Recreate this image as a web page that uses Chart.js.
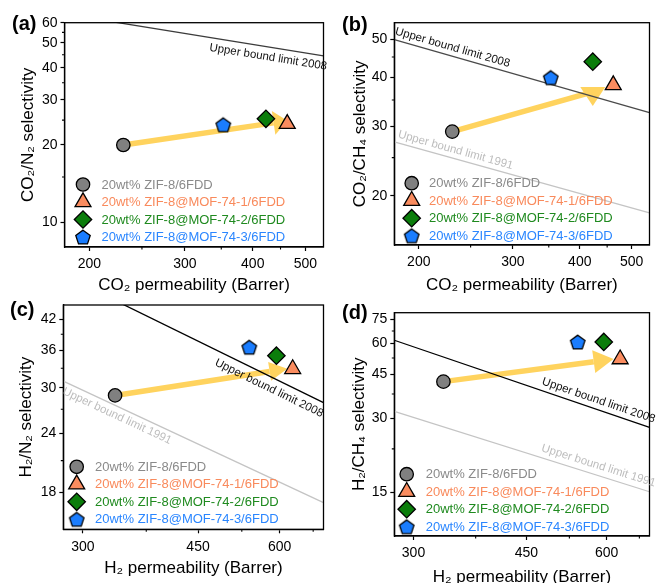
<!DOCTYPE html>
<html>
<head>
<meta charset="utf-8">
<script src="https://cdn.jsdelivr.net/npm/chart.js@4.4.1/dist/chart.umd.min.js"></script>
<style>
  html, body { margin: 0; padding: 0; background: #fff; }
  body { width: 660px; height: 583px; position: relative; overflow: hidden; }
  canvas { position: absolute; }
</style>
</head>
<body>
<canvas id="chartA" width="334" height="296" style="left:0;top:0"></canvas>
<canvas id="chartB" width="330" height="296" style="left:330px;top:0"></canvas>
<canvas id="chartC" width="334" height="291" style="left:0;top:292px"></canvas>
<canvas id="chartD" width="330" height="300" style="left:330px;top:292px"></canvas>
<script>
// ===== Data =====
const seriesNames = ['20wt% ZIF-8/6FDD', '20wt% ZIF-8@MOF-74-1/6FDD', '20wt% ZIF-8@MOF-74-2/6FDD', '20wt% ZIF-8@MOF-74-3/6FDD'];

// (a) CO2/N2, (b) CO2/CH4 vs CO2 permeability
const permA = [231, 463, 423, 353];
const selA = [20.0, 24.2, 25.3, 24.0];
const permB = [231, 462, 423, 353];
const selB = [29.1, 38.2, 43.8, 39.9];
// (c) H2/N2, (d) H2/CH4 vs H2 permeability
const permC = [336, 628, 593, 539];
const selC = [28.9, 32.9, 35.1, 36.6];
const permD = [334, 630, 594, 541];
const selD = [42.1, 51.9, 60.9, 60.9];

// upper bound lines: selectivity at both ends of the x range
const co2Range = [180, 540];
const h2Range = [280, 700];
const ub2008A = [64.9, 44.5];
const ub2008B = [49.8, 32.5];
const ub1991B = [27.4, 18.1];
const ub2008C = [52.1, 27.9];
const ub1991C = [31.0, 17.1];
const ub2008D = [61.9, 27.5];
const ub1991D = [31.9, 15.1];

// yellow arrows (start, end)
const arrowXA = [231, 437], arrowYA = [20.0, 24.4];
const arrowXB = [231, 423], arrowYB = [29.1, 36.7];
const arrowXC = [336, 579], arrowYC = [28.9, 32.5];
const arrowXD = [334, 573], arrowYD = [42.1, 50.7];

// ticks
const co2Ticks = [200, 300, 400, 500], co2Minor = [250, 350, 450];
const h2Ticks = [300, 450, 600], h2Minor = [375, 525, 675];
const yTicksA = [10, 20, 30, 40, 50, 60], yMinorA = [15, 25, 35, 45, 55], yRangeA = [8, 60];
const yTicksB = [20, 30, 40, 50], yMinorB = [25, 35, 45], yRangeB = [15, 55];
const yTicksC = [18, 24, 30, 36, 42], yMinorC = [21, 27, 33, 39], yRangeC = [15, 45];
const yTicksD = [15, 30, 45, 60, 75], yMinorD = [22.5, 37.5, 52.5, 67.5], yRangeD = [10, 80];

// ===== Styles =====
const FONT = '"Liberation Sans", Arial, sans-serif';
Chart.defaults.font.family = FONT;
Chart.defaults.color = '#000';

const markerFill = ['#808080', '#FA8C5F', '#0B7D0B', '#1A7DFF'];
const legendColor = ['#8A8A8A', '#F98A5C', '#1F8A1F', '#2A86FF'];
const arrowColor = '#FFD35E';

function pentagon(R, fill) {
  const s = Math.ceil(2 * R + 4);
  const c = document.createElement('canvas');
  c.width = s; c.height = s;
  const g = c.getContext('2d');
  const cx = s / 2, cy = s / 2 + 0.1 * R;
  g.beginPath();
  for (let i = 0; i < 5; i++) {
    const a = -Math.PI / 2 + i * 2 * Math.PI / 5;
    g.lineTo(cx + R * Math.cos(a), cy + R * Math.sin(a));
  }
  g.closePath();
  g.fillStyle = fill; g.fill();
  g.lineWidth = 1.3; g.strokeStyle = '#000'; g.stroke();
  return c;
}
const pointStyles = ['circle', 'triangle', 'rectRot', pentagon(7.6, markerFill[3])];
const pointSizes = [6.7, 9.2, 8.7, 7.6];

// ===== Decorations: arrow head, minor ticks, frame, labels, legend =====
function decor(p) {
  return {
    id: 'decor',
    afterDatasetDraw(chart, args) {
      const ds = chart.data.datasets[args.index];
      if (!ds.arrowHead) return;
      const pts = args.meta.data;
      const a = pts[0], b = pts[pts.length - 1];
      const h = ds.arrowHead;
      const ang = h.angle != null ? h.angle * Math.PI / 180 : Math.atan2(b.y - a.y, b.x - a.x);
      const ctx = chart.ctx;
      ctx.save();
      ctx.translate(b.x, b.y);
      ctx.rotate(ang);
      ctx.beginPath();
      ctx.moveTo(-h.back, -h.width / 2);
      ctx.lineTo(h.len - h.back, 0);
      ctx.lineTo(-h.back, h.width / 2);
      ctx.closePath();
      ctx.fillStyle = ds.borderColor;
      ctx.fill();
      ctx.restore();
    },
    afterDraw(chart) {
      const { ctx, chartArea: ca } = chart;
      const x = chart.scales.x, y = chart.scales.y;
      ctx.save();
      // minor ticks
      ctx.strokeStyle = '#000';
      ctx.lineWidth = 1.1;
      ctx.beginPath();
      p.xMinor.forEach(v => {
        const px = x.getPixelForValue(v);
        ctx.moveTo(px, ca.bottom); ctx.lineTo(px, ca.bottom + 2.5);
      });
      p.yMinor.forEach(v => {
        const py = y.getPixelForValue(v);
        ctx.moveTo(ca.left, py); ctx.lineTo(ca.left - 2.5, py);
      });
      ctx.stroke();
      // frame
      ctx.lineWidth = 1.3;
      ctx.strokeRect(ca.left, ca.top, ca.right - ca.left, ca.bottom - ca.top);

      // upper bound labels along the lines
      p.bounds.forEach(b => {
        const x0 = x.getPixelForValue(p.xRange[0]), y0 = y.getPixelForValue(b.ys[0]);
        const x1 = x.getPixelForValue(p.xRange[1]), y1 = y.getPixelForValue(b.ys[1]);
        const ang = Math.atan2(y1 - y0, x1 - x0);
        const px = x.getPixelForValue(b.labelAt);
        const py = y0 + (y1 - y0) * (px - x0) / (x1 - x0);
        ctx.save();
        ctx.translate(px, py);
        ctx.rotate(ang);
        ctx.font = '11.5px ' + FONT;
        ctx.fillStyle = b.textColor;
        ctx.textAlign = 'center';
        ctx.textBaseline = 'middle';
        ctx.fillText(b.label, 0, b.offset);
        ctx.restore();
      });

      // legend inside plot, lower left
      seriesNames.forEach((name, i) => {
        const mx = ca.left + p.legend.mx;
        const my = ca.bottom - p.legend.bottom - (seriesNames.length - 1 - i) * 17.5;
        ctx.fillStyle = markerFill[i];
        ctx.strokeStyle = '#000';
        ctx.lineWidth = 1.3;
        Chart.helpers.drawPoint(ctx, { pointStyle: pointStyles[i], radius: pointSizes[i], borderWidth: 1.3, rotation: 0 }, mx, my);
        ctx.font = '13px ' + FONT;
        ctx.fillStyle = legendColor[i];
        ctx.textAlign = 'left';
        ctx.textBaseline = 'middle';
        ctx.fillText(name, ca.left + p.legend.tx, my + 0.5);
      });

      // panel tag
      ctx.font = 'bold 20px ' + FONT;
      ctx.fillStyle = '#000';
      ctx.textAlign = 'left';
      ctx.textBaseline = 'middle';
      ctx.fillText(p.tag, p.tagPos[0], p.tagPos[1]);
      ctx.restore();
    }
  };
}

function makePanel(id, p) {
  const datasets = [];
  datasets.push({
    data: p.arrowX.map((v, i) => ({ x: v, y: p.arrowY[i] })),
    showLine: true, borderColor: arrowColor, borderWidth: 5.5, borderCapStyle: 'butt',
    pointRadius: 0, order: 4, arrowHead: p.head
  });
  p.bounds.forEach(b => datasets.push({
    data: p.xRange.map((v, i) => ({ x: v, y: b.ys[i] })),
    showLine: true, borderColor: b.color, borderWidth: 1.3, pointRadius: 0, order: 3
  }));
  seriesNames.forEach((name, i) => datasets.push({
    label: name,
    data: [{ x: p.perm[i], y: p.sel[i] }],
    pointStyle: pointStyles[i], pointRadius: pointSizes[i], pointHoverRadius: pointSizes[i],
    backgroundColor: markerFill[i], borderColor: '#000', borderWidth: 1.3, order: 1
  }));

  new Chart(document.getElementById(id), {
    type: 'scatter',
    data: { datasets },
    options: {
      responsive: false,
      animation: false,
      events: [],
      layout: { padding: { top: p.padTop, right: p.padRight, left: 0, bottom: 0 } },
      plugins: { legend: { display: false }, tooltip: { enabled: false } },
      scales: {
        x: {
          type: 'logarithmic', min: p.xRange[0], max: p.xRange[1],
          afterFit: s => { s.height = p.xHeight; },
          afterBuildTicks: s => { s.ticks = p.xTicks.map(v => ({ value: v })); },
          ticks: { autoSkip: false, maxRotation: 0, padding: 5, font: { size: 14 }, callback: v => String(v) },
          grid: { drawOnChartArea: false, drawTicks: true, tickLength: 4, tickColor: '#000', tickWidth: 1.2 },
          border: { display: true, color: '#000', width: 1.3 },
          title: { display: true, text: p.xTitle, font: { size: 17 }, padding: { top: 0, bottom: p.xTitlePad } }
        },
        y: {
          type: 'logarithmic', min: p.yRange[0], max: p.yRange[1],
          afterFit: s => { s.width = p.yWidth; },
          afterBuildTicks: s => { s.ticks = p.yTicks.map(v => ({ value: v })); },
          ticks: { autoSkip: false, padding: 3, font: { size: 14 }, callback: v => String(v) },
          grid: { drawOnChartArea: false, drawTicks: true, tickLength: 4, tickColor: '#000', tickWidth: 1.2 },
          border: { display: true, color: '#000', width: 1.3 },
          title: { display: true, text: p.yTitle, font: { size: 17 }, padding: { top: p.yTitlePad, bottom: 0 } }
        }
      }
    },
    plugins: [decor(p)]
  });
}

const line2008 = '#000', text2008 = '#111', line1991 = '#C4C4C4', text1991 = '#BDBDBD';

makePanel('chartA', {
  tag: '(a)', tagPos: [12, 24],
  perm: permA, sel: selA, xRange: co2Range, yRange: yRangeA,
  xTicks: co2Ticks, xMinor: co2Minor, yTicks: yTicksA, yMinor: yMinorA,
  arrowX: arrowXA, arrowY: arrowYA, head: { len: 14, width: 24, back: 0 },
  bounds: [{ ys: ub2008A, color: '#3C3C3C', label: 'Upper bound limit 2008', labelAt: 430, offset: 10, textColor: text2008 }],
  xTitle: 'CO₂ permeability (Barrer)', yTitle: 'CO₂/N₂ selectivity',
  padTop: 22.7, padRight: 4, yWidth: 64.5, xHeight: 49, yTitlePad: 17.8, xTitlePad: 0,
  legend: { mx: 18.5, tx: 37, bottom: 10 }
});

makePanel('chartB', {
  tag: '(b)', tagPos: [12, 25],
  perm: permB, sel: selB, xRange: co2Range, yRange: yRangeB,
  xTicks: co2Ticks, xMinor: co2Minor, yTicks: yTicksB, yMinor: yMinorB,
  arrowX: arrowXB, arrowY: arrowYB, head: { len: 19, width: 25, back: 5, angle: 90 },
  bounds: [
    { ys: ub2008B, color: '#4A4A4A', label: 'Upper bound limit 2008', labelAt: 229, offset: -8.5, textColor: text2008 },
    { ys: ub1991B, color: line1991, label: 'Upper bound limit 1991', labelAt: 232, offset: -8.5, textColor: text1991 }
  ],
  xTitle: 'CO₂ permeability (Barrer)', yTitle: 'CO₂/CH₄ selectivity',
  padTop: 22.7, padRight: 2, yWidth: 64.3, xHeight: 51, yTitlePad: 19.8, xTitlePad: 0,
  legend: { mx: 17.4, tx: 34.7, bottom: 9.3 }
});

makePanel('chartC', {
  tag: '(c)', tagPos: [10, 18],
  perm: permC, sel: selC, xRange: h2Range, yRange: yRangeC,
  xTicks: h2Ticks, xMinor: h2Minor, yTicks: yTicksC, yMinor: yMinorC,
  arrowX: arrowXC, arrowY: arrowYC, head: { len: 18, width: 19, back: 0 },
  bounds: [
    { ys: ub2008C, color: line2008, label: 'Upper bound limit 2008', labelAt: 588, offset: 11, textColor: text2008 },
    { ys: ub1991C, color: line1991, label: 'Upper bound limit 1991', labelAt: 343, offset: 9, textColor: text1991 }
  ],
  xTitle: 'H₂ permeability (Barrer)', yTitle: 'H₂/N₂ selectivity',
  padTop: 13, padRight: 4.7, yWidth: 63.3, xHeight: 53.7, yTitlePad: 16.5, xTitlePad: 4.8,
  legend: { mx: 13.4, tx: 31.7, bottom: 10 }
});

makePanel('chartD', {
  tag: '(d)', tagPos: [12, 21],
  perm: permD, sel: selD, xRange: h2Range, yRange: yRangeD,
  xTicks: h2Ticks, xMinor: h2Minor, yTicks: yTicksD, yMinor: yMinorD,
  arrowX: arrowXD, arrowY: arrowYD, head: { len: 20, width: 23, back: 0 },
  bounds: [
    { ys: ub2008D, color: line2008, label: 'Upper bound limit 2008', labelAt: 577, offset: -9, textColor: text2008 },
    { ys: ub1991D, color: line1991, label: 'Upper bound limit 1991', labelAt: 577, offset: -9.5, textColor: text1991 }
  ],
  xTitle: 'H₂ permeability (Barrer)', yTitle: 'H₂/CH₄ selectivity',
  padTop: 20.7, padRight: 2, yWidth: 64.3, xHeight: 56, yTitlePad: 18.8, xTitlePad: 4.8,
  legend: { mx: 12.4, tx: 31.4, bottom: 9.3 }
});
</script>
</body>
</html>
